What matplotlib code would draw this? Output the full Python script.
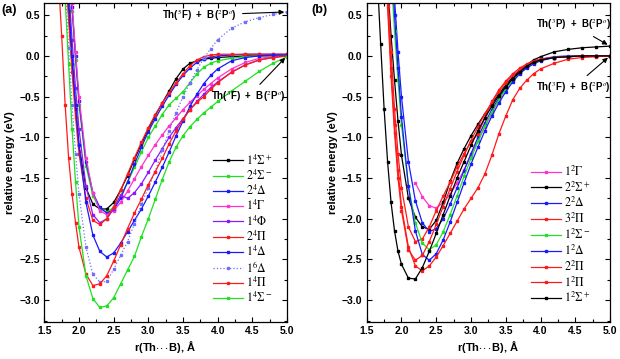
import numpy as np
import matplotlib
matplotlib.use('Agg')
import matplotlib.pyplot as plt

plt.rcParams['font.family'] = ['Liberation Sans', 'DejaVu Sans']
plt.rcParams['mathtext.fontset'] = 'stix'

nan = np.nan

# bond lengths (Angstrom), same grid for both panels
r_grid = [1.65, 1.70, 1.75, 1.80, 1.85, 1.90, 1.95, 2.00, 2.10, 2.20, 2.30, 2.40, 2.50,
          2.60, 2.70, 2.80, 2.90, 3.00, 3.10, 3.20, 3.30, 3.40, 3.50, 3.60, 3.70,
          3.80, 3.90, 4.00, 4.20, 4.40, 4.60, 4.80, 5.00]

# ---- panel (a): quartet / sextet states (eV) ----
a_1S4p = [3.3, 2.6, 1.9, 1.2, 0.55, -0.1, -0.65, -1.1, -1.62, -1.82, -1.88, -1.88, -1.80,
          -1.65, -1.47, -1.27, -1.08, -0.90, -0.73, -0.58, -0.43, -0.28, -0.16, -0.09, -0.06,
          -0.04, -0.03, -0.02, -0.01, 0.0, 0.0, 0.0, 0.0]
a_2S4m = [4.1, 3.4, 2.6, 1.9, 1.2, 0.55, -0.05, -0.6, -1.35, -1.72, -1.88, -1.92, -1.86,
          -1.72, -1.55, -1.37, -1.18, -1.0, -0.86, -0.72, -0.60, -0.52, -0.44, -0.33, -0.22,
          -0.14, -0.09, -0.06, -0.03, -0.01, 0.0, 0.0, 0.0]
a_2D4 = [4.4, 3.6, 2.8, 2.0, 1.3, 0.6, 0.0, -0.55, -1.3, -1.68, -1.86, -1.93, -1.89,
         -1.75, -1.55, -1.33, -1.12, -0.93, -0.77, -0.62, -0.48, -0.35, -0.24, -0.15, -0.08,
         -0.04, -0.01, 0.0, 0.01, 0.02, 0.02, 0.02, 0.02]
a_1G4 = [4.6, 3.8, 3.0, 2.2, 1.4, 0.65, 0.05, -0.5, -1.25, -1.68, -1.90, -1.95, -1.90,
         -1.80, -1.66, -1.51, -1.36, -1.22, -1.09, -0.97, -0.86, -0.76, -0.66, -0.57, -0.49,
         -0.41, -0.34, -0.27, -0.16, -0.08, -0.03, -0.01, 0.0]
a_1F4 = [4.0, 3.2, 2.4, 1.6, 0.85, 0.2, -0.4, -0.9, -1.6, -1.95, -2.05, -2.0, -1.88,
         -1.71, -1.75, -1.68, -1.57, -1.43, -1.28, -1.14, -1.0, -0.88, -0.77, -0.66, -0.56,
         -0.47, -0.39, -0.32, -0.20, -0.11, -0.05, -0.02, 0.0]
a_2P4 = [3.6, 2.8, 2.0, 1.2, 0.45, -0.2, -0.75, -1.2, -1.75, -2.02, -2.07, -2.0, -1.85,
         -1.65, -1.45, -1.25, -1.06, -0.88, -0.72, -0.58, -0.45, -0.33, -0.22, -0.12, -0.05,
         -0.01, 0.01, 0.02, 0.02, 0.02, 0.02, 0.02, 0.02]
a_1D4 = [3.9, 3.1, 2.3, 1.5, 0.7, 0.0, -0.6, -1.1, -1.8, -2.2, -2.4, -2.47, -2.42,
         -2.3, -2.16, -2.02, -1.88, -1.72, -1.55, -1.37, -1.18, -0.98, -0.80, -0.62, -0.47,
         -0.34, -0.24, -0.16, -0.06, -0.02, 0.0, 0.01, 0.01]
a_1D6 = [3.4, 2.6, 1.8, 0.9, 0.1, -0.6, -1.2, -1.7, -2.35, -2.68, -2.78, -2.77, -2.62,
         -2.45, -2.28, -2.06, -1.82, -1.62, -1.42, -1.16, -0.92, -0.70, -0.50, -0.33, -0.17,
         -0.03, 0.09, 0.20, 0.34, 0.42, 0.47, 0.51, 0.54]
a_1P4 = [1.8, 1.0, 0.25, -0.6, -1.25, -1.7, -2.05, -2.35, -2.68, -2.82, -2.80, -2.70, -2.52,
         -2.32, -2.12, -1.93, -1.76, -1.58, -1.42, -1.26, -1.08, -0.92, -0.78, -0.66, -0.57,
         -0.50, -0.41, -0.33, -0.20, -0.11, -0.05, -0.02, 0.0]
a_1S4m = [3.2, 2.4, 1.6, 0.7, -0.1, -0.9, -1.55, -2.1, -2.7, -2.98, -3.09, -3.07, -2.97,
          -2.80, -2.63, -2.46, -2.22, -2.0, -1.76, -1.52, -1.30, -1.12, -0.98, -0.87, -0.78,
          -0.70, -0.63, -0.56, -0.43, -0.31, -0.19, -0.09, -0.01]

# ---- panel (b): doublet states (eV) ----
b_1G2 = [nan, nan, nan, nan, nan, nan, nan, nan, nan, -1.56, -1.73, -1.84, -1.87,
         -1.80, -1.70, -1.56, -1.40, -1.22, -1.04, -0.87, -0.70, -0.54, -0.40, -0.28, -0.19,
         -0.13, -0.08, -0.05, -0.02, -0.01, 0.0, 0.0, 0.0]
b_2S2p = [3.2, 2.4, 1.6, 0.9, 0.25, -0.3, -0.8, -1.22, -1.75, -1.98, -2.10, -2.13, -2.02,
          -1.80, -1.54, -1.32, -1.14, -0.98, -0.84, -0.71, -0.59, -0.47, -0.36, -0.26, -0.18,
          -0.11, -0.05, -0.01, 0.05, 0.08, 0.10, 0.11, 0.12]
b_2D2 = [4.6, 3.8, 3.0, 2.2, 1.45, 0.7, 0.05, -0.5, -1.3, -1.78, -2.05, -2.16, -2.12,
         -2.0, -1.82, -1.62, -1.41, -1.2, -1.0, -0.82, -0.66, -0.52, -0.39, -0.28, -0.19,
         -0.12, -0.07, -0.04, -0.01, 0.0, 0.0, 0.0, 0.0]
b_3P2 = [3.3, 2.5, 1.7, 0.85, 0.05, -0.65, -1.2, -1.62, -2.1, -2.28, -2.25, -2.1, -1.9,
         -1.72, -1.55, -1.36, -1.2, -1.05, -0.96, -0.76, -0.56, -0.42, -0.31, -0.22, -0.15,
         -0.10, -0.06, -0.04, -0.02, -0.01, 0.0, 0.0, 0.0]
b_1S2m = [4.2, 3.4, 2.6, 1.8, 1.0, 0.3, -0.3, -0.85, -1.6, -2.05, -2.3, -2.38, -2.32,
          -2.16, -1.95, -1.72, -1.48, -1.26, -1.05, -0.86, -0.69, -0.54, -0.41, -0.30, -0.21,
          -0.14, -0.09, -0.05, -0.02, -0.01, 0.0, 0.0, 0.0]
b_1D2 = [4.5, 3.7, 2.9, 2.05, 1.25, 0.5, -0.15, -0.75, -1.6, -2.15, -2.44, -2.51, -2.43,
         -2.26, -2.04, -1.80, -1.56, -1.33, -1.12, -0.92, -0.74, -0.58, -0.44, -0.32, -0.22,
         -0.15, -0.10, -0.06, -0.02, -0.01, 0.0, 0.0, 0.0]
b_2P2 = [3.1, 2.3, 1.5, 0.6, -0.25, -0.95, -1.5, -1.9, -2.38, -2.51, -2.45, -2.28, -2.07,
         -1.85, -1.63, -1.42, -1.22, -1.04, -0.87, -0.71, -0.57, -0.44, -0.33, -0.24, -0.17,
         -0.11, -0.07, -0.04, -0.02, -0.01, 0.0, 0.0, 0.0]
b_1P2 = [3.2, 2.4, 1.6, 0.7, -0.15, -0.85, -1.4, -1.85, -2.35, -2.58, -2.64, -2.58, -2.47,
         -2.33, -2.18, -2.03, -1.88, -1.75, -1.62, -1.45, -1.22, -0.96, -0.74, -0.54, -0.40,
         -0.30, -0.22, -0.16, -0.09, -0.04, -0.02, -0.01, 0.0]
b_1S2p = [1.0, 0.15, -0.65, -1.3, -1.8, -2.15, -2.4, -2.56, -2.73, -2.74, -2.60, -2.40, -2.18,
          -1.95, -1.72, -1.50, -1.30, -1.10, -0.92, -0.76, -0.62, -0.49, -0.38, -0.28, -0.20,
          -0.13, -0.08, -0.05, -0.02, -0.01, 0.0, 0.0, 0.0]

RED = '#ff1a1a'
BLUE = '#1a1aff'
GREEN = '#22e022'
MAG = '#ff33cc'
PURP = '#8c1aff'

states_a = [
    (r'$1^4\Sigma^+$', a_1S4p, 'black', '-'),
    (r'$2^4\Sigma^-$', a_2S4m, GREEN, '-'),
    (r'$2^4\Delta$', a_2D4, BLUE, '-'),
    (r'$1^4\Gamma$', a_1G4, MAG, '-'),
    (r'$1^4\Phi$', a_1F4, PURP, '-'),
    (r'$2^4\Pi$', a_2P4, RED, '-'),
    (r'$1^4\Delta$', a_1D4, BLUE, '-'),
    (r'$1^6\Delta$', a_1D6, '#6f6fff', ':'),
    (r'$1^4\Pi$', a_1P4, RED, '-'),
    (r'$1^4\Sigma^-$', a_1S4m, GREEN, '-'),
]
states_b = [
    (r'$1^2\Gamma$', b_1G2, MAG, '-'),
    (r'$2^2\Sigma^+$', b_2S2p, 'black', '-'),
    (r'$2^2\Delta$', b_2D2, BLUE, '-'),
    (r'$3^2\Pi$', b_3P2, RED, '-'),
    (r'$1^2\Sigma^-$', b_1S2m, GREEN, '-'),
    (r'$1^2\Delta$', b_1D2, BLUE, '-'),
    (r'$2^2\Pi$', b_2P2, RED, '-'),
    (r'$1^2\Pi$', b_1P2, RED, '-'),
    (r'$1^2\Sigma^+$', b_1S2p, 'black', '-'),
]

fig = plt.figure(figsize=(6.2, 3.59), dpi=100)
ax_a = fig.add_axes([0.0715, 0.104, 0.3915, 0.888])
ax_b = fig.add_axes([0.5915, 0.104, 0.3924, 0.888])

for ax, states in ((ax_a, states_a), (ax_b, states_b)):
    for label, vals, col, ls in states:
        ax.plot(r_grid, vals, color=col, ls=ls, lw=0.9, marker='s', ms=1.5,
                label=label)
    ax.set_xlim(1.5, 5.0)
    ax.set_ylim(-3.264, 0.651)
    ax.set_xticks(np.arange(1.5, 5.01, 0.5))
    ax.set_yticks([-3.0, -2.5, -2.0, -1.5, -1.0, -0.5, 0.0, 0.5])
    ax.set_xticks(np.arange(1.5, 5.01, 0.25), minor=True)
    ax.set_yticks(np.arange(-3.25, 0.6, 0.25), minor=True)
    ax.tick_params(which='both', direction='in', top=True, right=True, width=0.8)
    ax.tick_params(which='major', length=3.5, labelsize=7.5, pad=3)
    ax.tick_params(which='minor', length=2)
    for lab in ax.get_xticklabels() + ax.get_yticklabels():
        lab.set_fontweight('bold')
    for sp in ax.spines.values():
        sp.set_linewidth(0.9)
    ax.set_xlabel(r'r(Th$\cdot\!\cdot\!\cdot$B), Å', fontsize=8, fontweight='bold',
                  labelpad=2)
    ax.set_ylabel('relative energy (eV)', fontsize=8, fontweight='bold', labelpad=3)

ax_a.legend(loc='lower right', bbox_to_anchor=(0.975, 0.025), frameon=False,
            fontsize=8.5, handlelength=2.5, handletextpad=0.3, labelspacing=0.08,
            borderpad=0.2)
ax_b.legend(loc='lower right', bbox_to_anchor=(0.955, 0.025), frameon=False,
            fontsize=8.5, handlelength=2.5, handletextpad=0.3, labelspacing=0.13,
            borderpad=0.2)

arrow = dict(arrowstyle='-|>', color='black', lw=0.8, mutation_scale=7)
tfont = dict(fontsize=7, fontweight='bold')
ax_a.annotate(r'Th($^5$F)  +  B($^2$P$^o$)', xy=(5.0, 0.54), xytext=(3.2, 0.50),
              va='center', ha='left', arrowprops=arrow, **tfont)
ax_a.annotate(r'Th($^3$F)  +  B($^2$P$^o$)', xy=(5.0, 0.0), xytext=(3.9, -0.50),
              va='center', ha='left', arrowprops=arrow, **tfont)
ax_b.annotate(r'Th($^3$P)  +  B($^2$P$^o$)', xy=(5.0, 0.12), xytext=(3.93, 0.38),
              va='center', ha='left', arrowprops=arrow, **tfont)
ax_b.annotate(r'Th($^3$F)  +  B($^2$P$^o$)', xy=(5.0, 0.0), xytext=(3.93, -0.39),
              va='center', ha='left', arrowprops=arrow, **tfont)

fig.text(0.003, 0.99, '(a)', fontsize=9, fontweight='bold', va='top')
fig.text(0.503, 0.99, '(b)', fontsize=9, fontweight='bold', va='top')

fig.savefig('out.png', dpi=100)
